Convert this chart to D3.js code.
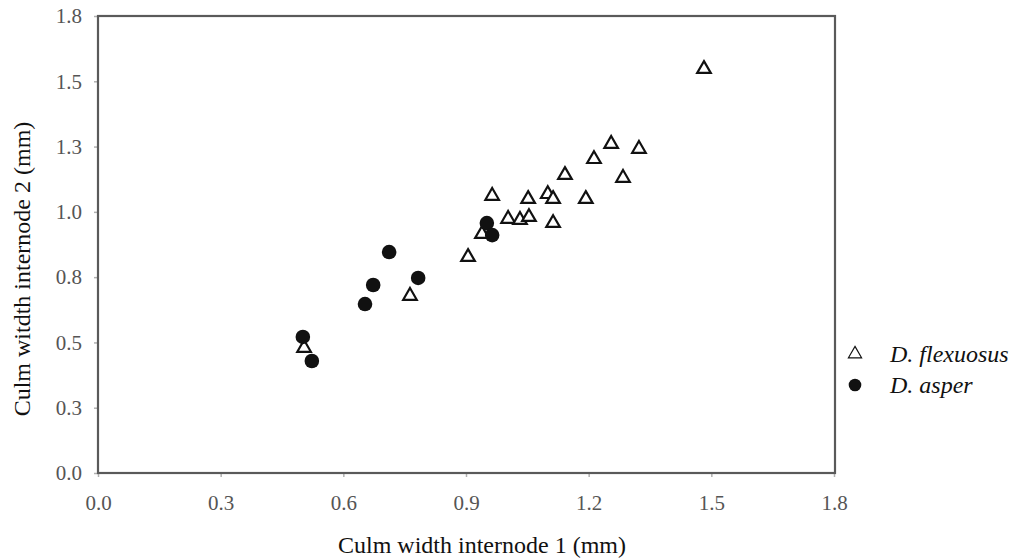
<!DOCTYPE html>
<html>
<head>
<meta charset="utf-8">
<script src="https://cdn.jsdelivr.net/npm/d3@7"></script>
<style>
  body { margin: 0; background: #fff; }
  svg { font-family: "Liberation Serif", "Times New Roman", serif; }
</style>
</head>
<body>
<svg width="1014" height="559"></svg>
<script>
// D. flexuosus (open triangles)
const flexX = [1.482, 1.255, 1.323, 1.213, 1.142, 1.284, 0.964, 1.052, 1.100, 1.113,
               1.193, 1.003, 1.032, 1.054, 1.113, 0.939, 0.905, 0.763, 0.504];
const flexY = [1.551, 1.264, 1.245, 1.206, 1.145, 1.134, 1.065, 1.053, 1.072, 1.053,
               1.053, 0.977, 0.973, 0.984, 0.961, 0.919, 0.831, 0.682, 0.483];

// D. asper (filled circles)
const asperX = [0.712, 0.783, 0.673, 0.653, 0.501, 0.523, 0.951, 0.964];
const asperY = [0.846, 0.747, 0.720, 0.647, 0.521, 0.429, 0.957, 0.911];

const xTicks = [0, 0.3, 0.6, 0.9, 1.2, 1.5, 1.8];
const xTickLabels = ["0.0", "0.3", "0.6", "0.9", "1.2", "1.5", "1.8"];
const yTicks = [0, 0.25, 0.5, 0.75, 1.0, 1.25, 1.5, 1.75];
const yTickLabels = ["0.0", "0.3", "0.5", "0.8", "1.0", "1.3", "1.5", "1.8"];

const seriesNames = ["D. flexuosus", "D. asper"];

function main() {
    var svg = d3.select("svg");
    var left = 98, right = 834, top = 16, bottom = 473;

    var x = d3.scaleLinear().domain([0, 1.8]).range([left, right]);
    var y = d3.scaleLinear().domain([0, 1.75]).range([bottom, top]);

    // x axis
    var gx = svg.append("g")
        .attr("transform", "translate(0," + bottom + ")")
        .call(d3.axisBottom(x).tickValues(xTicks)
            .tickFormat(function(d, i) { return xTickLabels[i]; })
            .tickSize(4).tickPadding(18));

    // y axis
    var gy = svg.append("g")
        .attr("transform", "translate(" + left + ",0)")
        .call(d3.axisLeft(y).tickValues(yTicks)
            .tickFormat(function(d, i) { return yTickLabels[i]; })
            .tickSize(4).tickPadding(12));

    [gx, gy].forEach(function(g) {
        g.select(".domain").remove();
        g.selectAll(".tick line").attr("stroke", "#b0b0b0").attr("stroke-width", 1.5);
        g.selectAll(".tick text")
            .attr("fill", "#555")
            .style("font-family", "'Liberation Serif', serif")
            .style("font-size", "21px");
    });

    // plot frame
    svg.append("rect")
        .attr("x", left)
        .attr("y", top)
        .attr("width", x(1.8) - left + 1)
        .attr("height", bottom - top)
        .attr("fill", "none")
        .attr("stroke", "#5a5a5a")
        .attr("stroke-width", 2.2);

    // triangles
    var tri = d3.symbol().type(d3.symbolTriangle).size(80);
    svg.append("g").selectAll("path")
        .data(d3.range(flexX.length))
        .enter().append("path")
        .attr("d", tri)
        .attr("transform", function(i) {
            return "translate(" + x(flexX[i]) + "," + (y(flexY[i]) + 1) + ")";
        })
        .attr("fill", "#fff")
        .attr("stroke", "#111")
        .attr("stroke-width", 2.2);

    // circles
    svg.append("g").selectAll("circle")
        .data(d3.range(asperX.length))
        .enter().append("circle")
        .attr("cx", function(i) { return x(asperX[i]); })
        .attr("cy", function(i) { return y(asperY[i]); })
        .attr("r", 7.3)
        .attr("fill", "#111");

    // axis titles
    svg.append("text")
        .attr("x", 482)
        .attr("y", 553)
        .attr("text-anchor", "middle")
        .style("font-size", "24px")
        .attr("fill", "#111")
        .text("Culm width internode 1 (mm)");

    svg.append("text")
        .attr("transform", "translate(30,269) rotate(-90)")
        .attr("text-anchor", "middle")
        .style("font-size", "24px")
        .attr("fill", "#111")
        .text("Culm witdth internode 2 (mm)");

    // legend
    var legend = svg.append("g");
    legend.append("path")
        .attr("d", d3.symbol().type(d3.symbolTriangle).size(75))
        .attr("transform", "translate(855,354)")
        .attr("fill", "#fff")
        .attr("stroke", "#111")
        .attr("stroke-width", 1.2);
    legend.append("circle")
        .attr("cx", 855).attr("cy", 385).attr("r", 6.3)
        .attr("fill", "#111");

    legend.selectAll("text")
        .data(seriesNames)
        .enter().append("text")
        .attr("x", 890)
        .attr("y", function(d, i) { return 362 + i * 31; })
        .style("font-size", "24px")
        .style("font-style", "italic")
        .attr("fill", "#111")
        .text(function(d) { return d; });
}
main();
</script>
</body>
</html>
